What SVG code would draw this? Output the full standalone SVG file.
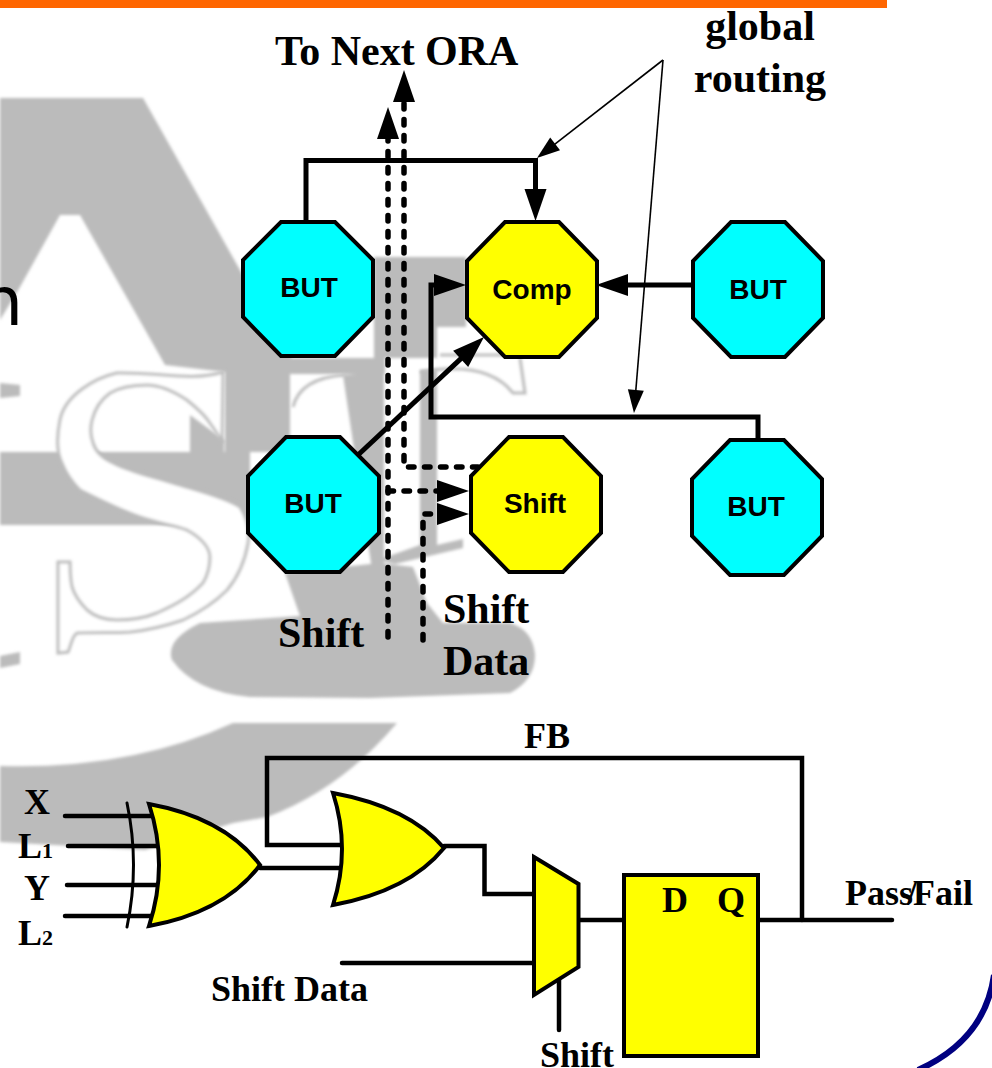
<svg xmlns="http://www.w3.org/2000/svg" width="992" height="1068" viewBox="0 0 992 1068">
<style>
text{font-family:"Liberation Serif","Times New Roman",serif;font-weight:bold;fill:#000}
.s{font-size:42px}
.m{font-size:36px}
.a{font-family:"Liberation Sans",Arial,sans-serif;font-size:28px;text-anchor:middle}
.c{text-anchor:middle}
.oc{stroke:#000;stroke-width:4;stroke-linejoin:miter}
.cy{fill:#00ffff}
.ye{fill:#ffff00}
.g{stroke:#000;stroke-width:4;fill:#ffff00;stroke-linejoin:miter}
.w{fill:none;stroke:#000;stroke-width:5}
.b{fill:none;stroke:#000;stroke-width:4.5;stroke-linecap:round}
.d{fill:none;stroke:#000;stroke-width:5.5;stroke-linecap:round;stroke-dasharray:5.5 10.5}
.t{fill:none;stroke:#000;stroke-width:1.6}
.bg{fill:#bbbbbb}
.bo{fill:none;stroke:#bbbbbb;stroke-width:3}
</style>
<defs>
<filter id="soft" x="-5%" y="-5%" width="110%" height="110%"><feGaussianBlur stdDeviation="1.5"/></filter>
<marker id="h" markerUnits="userSpaceOnUse" markerWidth="32" markerHeight="22" refX="8" refY="11" orient="auto" overflow="visible"><path d="M0,0L32,11L0,22Z" fill="#000"/></marker>
<marker id="n" markerUnits="userSpaceOnUse" markerWidth="23" markerHeight="16" refX="8" refY="8" orient="auto" overflow="visible"><path d="M0,0L23,8L0,16Z" fill="#000"/></marker>
</defs>
<rect width="992" height="1068" fill="#fff"/>
<g id="background" filter="url(#soft)">
<path class="bg" d="M0,98H143L240,270L300,372H225L165,365L80,215H60L20,287L0,320Z"/>
<path class="bg" d="M225,365H290V452H225Z"/>
<path class="bg" d="M0,452H250V525H0Z"/>
<path class="bg" d="M190,415L224,440V452H190Z"/>
<path class="bg" d="M288,358H385V374H288Z"/>
<path class="bg" d="M374,257H466V327H437V358H374Z"/>
<path class="bg" d="M343,375L384,372V570H372Z"/>
<path class="bg" d="M420,370H437V545L463,539V548L395,564L378,560L420,545Z"/>
<path class="bg" d="M285,573L380,563L413,567L427,603L443,623H510Q533,630 535,655Q535,680 510,693L370,698L250,697Q195,692 172,660Q165,640 200,623L300,616Z"/>
<path class="bg" d="M0,766Q130,770 233,723H397Q340,790 267,817L233,823L145,850L0,842Z"/>
<path class="bg" d="M0,383L20,385V396L0,398ZM0,656L20,652V664L0,668Z"/>
</g>
<g id="letter-outlines" filter="url(#soft)">
<path d="M223,372C190,382 160,372 117,373C95,378 65,395 60,420C56,440 58,455 62,463C68,478 75,485 80,490C100,500 120,510 140,517C160,524 175,525 187,530C200,537 210,547 210,557C210,568 208,575 203,583C190,597 175,605 157,613C145,618 130,620 117,620C105,620 95,617 87,610C80,603 75,597 72,587C70,578 70,570 70,562L58,562L58,653L68,652C72,642 72,636 77,633C95,632 115,633 130,632C150,630 165,626 183,620C200,612 215,602 227,590C238,577 245,560 248,543C250,530 247,518 240,507C225,497 195,490 173,483C150,476 130,472 113,463C100,457 95,450 93,443C90,435 90,428 92,420C95,408 100,400 110,393C120,387 135,385 147,385C160,385 175,392 187,400C197,408 205,415 210,423C215,430 220,437 222,443Z" fill="#fff" stroke="#bbbbbb" stroke-width="3"/>
<path class="bo" d="M293,407Q300,378 345,375M420,372Q487,360 513,393L525,393L520,358M440,355H520"/>
</g>
<text x="-20" y="325" style="font-family:'DejaVu Sans',sans-serif;font-weight:normal;font-size:68px" fill="#111">n</text>
<rect id="title-bar" width="887" height="8" fill="#ff6600"/>
<g id="connectors">
<path class="w" d="M306,222V160.500H535.500V197" marker-end="url(#h)"/>
<path class="w" d="M692,285H620" marker-end="url(#h)"/>
<path class="w" d="M758,441V417H431V285H442" marker-end="url(#h)"/>
<path class="w" d="M358,455L466.500,353.400" marker-end="url(#h)"/>
<path class="t" d="M663,60L548.800,148.800" marker-end="url(#n)"/>
<path class="t" d="M663,60L635.200,398" marker-end="url(#n)"/>
<path class="d" d="M388,637V131" marker-end="url(#h)"/>
<path class="d" d="M478,467H404V94" marker-end="url(#h)"/>
<path class="d" d="M388,491H445" marker-end="url(#h)"/>
<path class="d" d="M423,640V514H445" marker-end="url(#h)"/>
<path class="b" d="M65,816H155M68,846H157M67,885H157M65,916H155"/>
<path class="b" d="M127,803Q140,865 127,927" style="stroke-width:3"/>
<path class="b" d="M260,868H340"/>
<path class="b" d="M340,845H267V758H802V920"/>
<path class="b" d="M444,846H484.500V894H534"/>
<path class="b" d="M579,920H625"/>
<path class="b" d="M342,963H534"/>
<path class="b" d="M559,980V1030"/>
<path class="b" d="M759,920H892"/>
</g>
<g id="but-1"><path class="oc cy" d="M281,222H335L373,260V317L335,356H281L243,317V260Z"/><text class="a" x="309" y="297">BUT</text></g>
<g id="comp"><path class="oc ye" d="M505,222H559L597,261V318L559,357H505L467,318V261Z"/><text class="a" x="532" y="299">Comp</text></g>
<g id="but-2"><path class="oc cy" d="M731,222H785L823,261V318L785,357H731L693,318V261Z"/><text class="a" x="758" y="299">BUT</text></g>
<g id="but-3"><path class="oc cy" d="M286,437H340L379,476V533L340,572H286L248,533V476Z"/><text class="a" x="313" y="513">BUT</text></g>
<g id="shift"><path class="oc ye" d="M509,437H563L601,476V533L563,572H509L471,533V476Z"/><text class="a" x="535" y="513">Shift</text></g>
<g id="but-4"><path class="oc cy" d="M730,440H784L822,479V536L784,575H730L692,536V479Z"/><text class="a" x="756" y="516">BUT</text></g>
<g id="or-1"><path class="g" d="M149,804Q225,818 260,865Q225,912 149,926Q169,865 149,804Z"/></g>
<g id="or-2"><path class="g" d="M333,793Q409,807 444,848Q409,891 333,905Q351,849 333,793Z"/></g>
<g id="mux"><path class="g" d="M534,857L578.500,884V967L534,995Z"/></g>
<g id="flipflop"><rect class="g" x="624" y="875" width="134" height="181"/><text class="m" x="662" y="912">D</text><text class="m" x="717" y="912">Q</text></g>
<g id="labels">
<text class="s" x="275" y="65">To Next ORA</text>
<text class="s c" x="760" y="40">global</text>
<text class="s c" x="760" y="92">routing</text>
<text class="s" x="278" y="647">Shift</text>
<text class="s" x="443" y="623">Shift</text>
<text class="s" x="443" y="675">Data</text>
<text class="m" x="524" y="748">FB</text>
<text class="m" x="24" y="814">X</text>
<text class="m" x="18" y="858">L<tspan font-size="22">1</tspan></text>
<text class="m" x="24" y="900">Y</text>
<text class="m" x="18" y="945">L<tspan font-size="22">2</tspan></text>
<text class="m" x="211" y="1001">Shift Data</text>
<text class="m" x="540" y="1067">Shift</text>
<text class="m" x="845" y="905">Pass<tspan dx="-6">/</tspan><tspan dx="-4">Fail</tspan></text>
</g>
<path id="corner-arc" d="M994,975Q985,1040 918,1070" fill="none" stroke="#000080" stroke-width="6"/>
</svg>
